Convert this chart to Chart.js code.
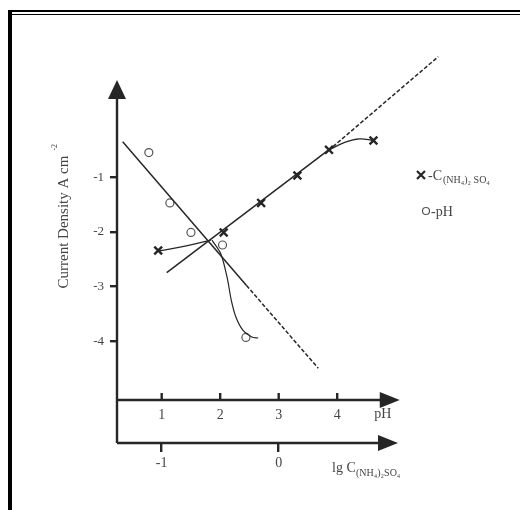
<!DOCTYPE html>
<html>
<head>
<meta charset="utf-8">
<script src="https://cdn.jsdelivr.net/npm/chart.js@4.4.0/dist/chart.umd.min.js"></script>
<style>
  html, body { margin: 0; padding: 0; background: #fff; overflow: hidden; }
  .wrap { position: relative; width: 520px; height: 510px; }
  .chart { position: absolute; left: 0; top: 0; }
  .frame { position: absolute; left: 8px; top: 10px; width: 600px; height: 600px; border-top: 2.5px solid #000; border-left: 4px solid #000; }
  .frame_inner { position: absolute; left: 12px; top: 13.6px; width: 600px; border-top: 1.2px solid #000; }
</style>
</head>
<body>
<div class="wrap">
  <canvas class="chart" width="520" height="510"></canvas>
  <div class="frame"></div>
  <div class="frame_inner"></div>
</div>
<script>
// C(NH4)2SO4 series (x = lg C), crosses
const conc_lg = [-1.03, -0.47, -0.15, 0.16, 0.43, 0.81];
const conc_density = [-2.34, -2.01, -1.47, -0.97, -0.50, -0.33];
// curve from the first cross to the fitted line, and the bend to the last cross
const conc_head_lg = [-1.03, -0.80, -0.58];
const conc_head_density = [-2.35, -2.26, -2.15];
const conc_tail_lg = [0.43, 0.57, 0.69, 0.81];
const conc_tail_density = [-0.50, -0.36, -0.30, -0.33];
// fitted line (solid, then dashed)
const conc_fit_lg = [-0.957, 0.464, 1.364];
const conc_fit_density = [-2.746, -0.442, 1.203];

// pH series, circles
const ph_values = [0.78, 1.14, 1.50, 2.04, 2.44];
const ph_density = [-0.55, -1.47, -2.01, -2.24, -3.93];
const ph_curve_x = [1.86, 2.01, 2.12, 2.19, 2.27, 2.39, 2.54, 2.65];
const ph_curve_density = [-2.15, -2.40, -2.84, -3.25, -3.56, -3.80, -3.92, -3.94];
const ph_fit_x = [0.333, 2.45, 3.677];
const ph_fit_density = [-0.351, -2.98, -4.494];

const density_ticks = [-1, -2, -3, -4];
const ph_ticks = [1, 2, 3, 4];
const lg_ticks = [-1, 0];

const serif = '"Liberation Serif", "DejaVu Serif", serif';
const ink = '#262626';
const text_ink = '#444';

const pts = (xs, ys) => xs.map((x, i) => ({ x: x, y: ys[i] }));
const dash_after_first = { borderDash: ctx => ctx.p0DataIndex >= 1 ? [4, 2] : undefined };

function arrow(ctx, tx, ty, dir) {
  // dir: 'up' or 'right'
  ctx.beginPath();
  if (dir === 'up') {
    ctx.moveTo(tx, ty); ctx.lineTo(tx - 9, ty + 19); ctx.lineTo(tx + 9, ty + 19);
  } else {
    ctx.moveTo(tx, ty); ctx.lineTo(tx - 20, ty - 8); ctx.lineTo(tx - 20, ty + 8);
  }
  ctx.closePath();
  ctx.fill();
}

const axes_art = {
  id: 'axes_art',
  beforeDatasetsDraw(chart) {
    const { ctx, chartArea: a, scales } = chart;
    const x = scales.x, x2 = scales.x2;
    const ph_y = a.bottom - 43;
    ctx.save();
    ctx.strokeStyle = ink; ctx.fillStyle = ink; ctx.lineWidth = 2.4;

    // vertical axis
    ctx.beginPath(); ctx.moveTo(a.left, a.top + 45); ctx.lineTo(a.left, a.bottom); ctx.stroke();
    arrow(ctx, a.left, a.top + 30, 'up');

    // pH axis
    const ph_end = x.getPixelForValue(5.07);
    ctx.beginPath(); ctx.moveTo(a.left, ph_y); ctx.lineTo(ph_end - 10, ph_y); ctx.stroke();
    arrow(ctx, ph_end, ph_y, 'right');
    ph_ticks.forEach(v => {
      const px = x.getPixelForValue(v);
      ctx.beginPath(); ctx.moveTo(px, ph_y - 7); ctx.lineTo(px, ph_y); ctx.stroke();
    });

    // lg C axis
    const lg_end = x2.getPixelForValue(1.02);
    ctx.beginPath(); ctx.moveTo(a.left, a.bottom); ctx.lineTo(lg_end - 10, a.bottom); ctx.stroke();
    arrow(ctx, lg_end, a.bottom, 'right');

    // pH tick labels and name
    ctx.fillStyle = text_ink;
    ctx.font = '14px ' + serif;
    ctx.textAlign = 'center'; ctx.textBaseline = 'middle';
    ph_ticks.forEach(v => ctx.fillText(String(v), x.getPixelForValue(v), ph_y + 15));
    ctx.fillText('pH', x.getPixelForValue(4.78), ph_y + 14);

    // lg C label
    ctx.textAlign = 'left'; ctx.textBaseline = 'alphabetic';
    ctx.font = '14px ' + serif;
    ctx.fillText('lg C', 332, a.bottom + 29);
    ctx.font = '10px ' + serif;
    ctx.fillText('(NH\u2084)\u2082SO\u2084', 356, a.bottom + 33);

    // y title
    ctx.save();
    ctx.translate(64, 222);
    ctx.rotate(-Math.PI / 2);
    ctx.font = '15px ' + serif;
    ctx.textAlign = 'center'; ctx.textBaseline = 'middle';
    ctx.fillText('Current Density A cm', 0, 0);
    const w = ctx.measureText('Current Density A cm').width;
    ctx.font = '8px ' + serif;
    ctx.textAlign = 'left';
    ctx.fillText('-2', w / 2 + 5, -9);
    ctx.restore();

    // legend
    ctx.strokeStyle = ink; ctx.lineWidth = 2.2;
    ctx.beginPath();
    ctx.moveTo(417, 171); ctx.lineTo(425, 179); ctx.moveTo(425, 171); ctx.lineTo(417, 179);
    ctx.stroke();
    ctx.font = '14px ' + serif; ctx.textBaseline = 'alphabetic'; ctx.textAlign = 'left';
    ctx.fillText('-C', 428, 180);
    ctx.font = '10px ' + serif;
    ctx.fillText('(NH\u2084)\u2082 SO\u2084', 443, 183);
    ctx.lineWidth = 1.2; ctx.strokeStyle = '#555';
    ctx.beginPath(); ctx.arc(426, 211, 3.5, 0, Math.PI * 2); ctx.stroke();
    ctx.font = '14px ' + serif;
    ctx.fillText('-pH', 431, 216);

    ctx.restore();
  }
};

const line_style = { showLine: true, pointRadius: 0, borderColor: ink, borderWidth: 1.5, fill: false };

new Chart(document.querySelector('.chart'), {
  type: 'scatter',
  data: {
    datasets: [
      Object.assign({ data: pts(conc_fit_lg, conc_fit_density), xAxisID: 'x2', segment: dash_after_first }, line_style),
      Object.assign({ data: pts(ph_fit_x, ph_fit_density), xAxisID: 'x', segment: dash_after_first }, line_style),
      Object.assign({ data: pts(conc_head_lg, conc_head_density), xAxisID: 'x2', tension: 0.4 }, line_style, { borderWidth: 1.2 }),
      Object.assign({ data: pts(conc_tail_lg, conc_tail_density), xAxisID: 'x2', tension: 0.4 }, line_style, { borderWidth: 1.2 }),
      Object.assign({ data: pts(ph_curve_x, ph_curve_density), xAxisID: 'x', tension: 0.3 }, line_style, { borderWidth: 1.2 }),
      {
        label: 'C(NH4)2SO4', data: pts(conc_lg, conc_density), xAxisID: 'x2',
        pointStyle: 'crossRot', pointRadius: 5.5, pointBorderWidth: 2.4, borderColor: ink, backgroundColor: ink
      },
      {
        label: 'pH', data: pts(ph_values, ph_density), xAxisID: 'x',
        pointStyle: 'circle', pointRadius: 4, pointBorderWidth: 1.2, borderColor: '#555', backgroundColor: '#fff'
      }
    ]
  },
  options: {
    responsive: false,
    animation: false,
    devicePixelRatio: 1,
    layout: { padding: { left: 0, top: 50, right: 75, bottom: 0 } },
    plugins: { legend: { display: false }, tooltip: { enabled: false } },
    scales: {
      x: { type: 'linear', axis: 'x', display: false, min: 0.236, max: 5.843 },
      x2: {
        type: 'linear', axis: 'x', position: 'bottom', min: -1.382, max: 1.4215,
        afterBuildTicks: s => { s.ticks = lg_ticks.map(v => ({ value: v })); },
        afterFit: s => { s.height = 67; },
        grid: { display: true, drawOnChartArea: false, drawTicks: true, tickLength: 9, color: ink, lineWidth: 2.4 },
        border: { display: false },
        ticks: { color: text_ink, font: { family: serif, size: 14 }, padding: 3, maxRotation: 0 }
      },
      y: {
        type: 'linear', min: -5.859, max: 1.325,
        afterBuildTicks: s => { s.ticks = density_ticks.map(v => ({ value: v })); },
        afterFit: s => { s.width = 117; },
        grid: { display: true, drawOnChartArea: false, drawTicks: true, tickLength: 7, color: ink, lineWidth: 2.4 },
        border: { display: false },
        ticks: { color: text_ink, font: { family: serif, size: 13 }, padding: 6 }
      }
    }
  },
  plugins: [axes_art]
});
</script>
</body>
</html>
